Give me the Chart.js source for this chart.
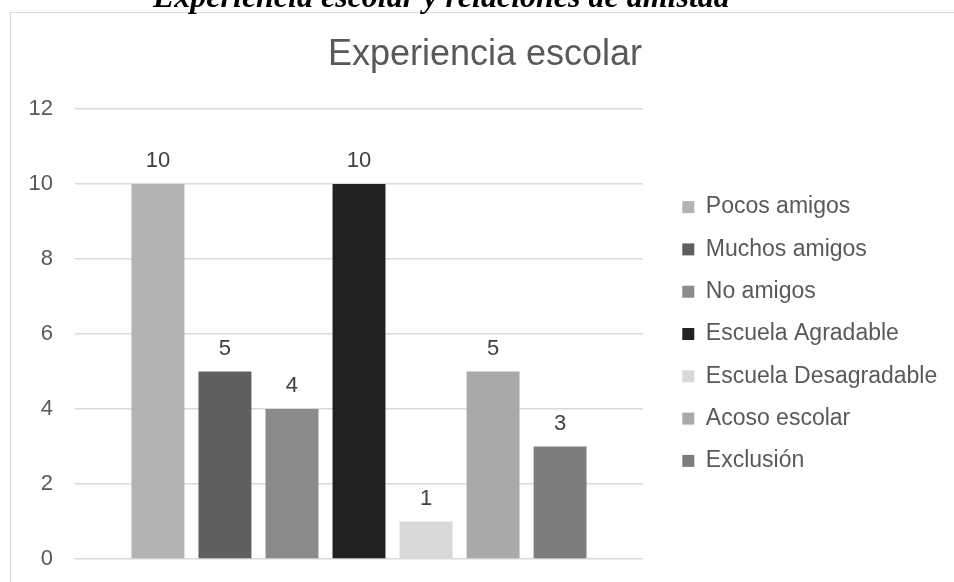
<!DOCTYPE html>
<html>
<head>
<meta charset="utf-8">
<script src="https://cdn.jsdelivr.net/npm/chart.js@4.4.1/dist/chart.umd.min.js"></script>
<style>
  html, body { margin: 0; padding: 0; background: #fff; width: 954px; height: 582px; overflow: hidden; }
  #frame { position: absolute; left: 10px; top: 12px; width: 1200px; height: 900px; border: 1px solid #d9d9d9; }
  #wrap { position: absolute; left: 0; top: 0; width: 954px; height: 582px; }
  #heading { position: absolute; left: 153px; top: -20px; font-family: "Liberation Serif", "Times New Roman", serif; font-weight: bold; font-style: italic; font-size: 32px; line-height: 1; color: #000; white-space: nowrap; }
</style>
</head>
<body>
<div id="frame"></div>
<div id="wrap"><canvas id="c" width="954" height="582"></canvas></div>
<div id="heading">Experiencia escolar y relaciones de amistad</div>
<script>
const chartTitle = "Experiencia escolar";
const seriesNames = ["Pocos amigos", "Muchos amigos", "No amigos", "Escuela Agradable", "Escuela Desagradable", "Acoso escolar", "Exclusión"];
const seriesValues = [10, 5, 4, 10, 1, 5, 3];
const seriesColors = ["#b3b3b3", "#5f5f5f", "#8b8b8b", "#222222", "#d9d9d9", "#a9a9a9", "#7d7d7d"];
const yTicks = [0, 2, 4, 6, 8, 10, 12];

const datasets = seriesNames.map((name, i) => ({
  label: name,
  data: [seriesValues[i]],
  backgroundColor: seriesColors[i],
  borderWidth: 0,
  categoryPercentage: 0.826,
  barPercentage: 0.79
}));

const valueLabels = {
  id: 'valueLabels',
  afterDatasetsDraw(chart) {
    const ctx = chart.ctx;
    ctx.save();
    ctx.font = '22px "Liberation Sans", Arial, sans-serif';
    ctx.fillStyle = '#404040';
    ctx.textAlign = 'center';
    ctx.textBaseline = 'alphabetic';
    chart.data.datasets.forEach((ds, i) => {
      const meta = chart.getDatasetMeta(i);
      meta.data.forEach((el, j) => {
        ctx.fillText(String(ds.data[j]), el.x, el.y - 17);
      });
    });
    ctx.restore();
  }
};

const LEGEND_W = 291;
const fixLegend = {
  id: 'fixLegend',
  beforeLayout(chart) {
    const lg = chart.legend;
    if (lg && !lg._fixed) {
      const orig = lg.fit.bind(lg);
      lg.fit = function () { orig(); this.width = LEGEND_W; };
      lg._fixed = true;
    }
  }
};

new Chart(document.getElementById('c'), {
  type: 'bar',
  data: { labels: [""], datasets },
  plugins: [valueLabels, fixLegend],
  options: {
    responsive: false,
    animation: false,
    layout: { padding: { left: 16, right: 0, top: 0, bottom: 23 } },
    plugins: {
      title: {
        display: true,
        text: chartTitle,
        color: '#595959',
        font: { family: '"Liberation Sans", Arial, sans-serif', size: 36, weight: 'normal' },
        padding: { top: 33, bottom: 32.8 }
      },
      legend: {
        position: 'right',
        fullSize: false,
        align: 'center',
        labels: {
          color: '#595959',
          font: { family: '"Liberation Sans", Arial, sans-serif', size: 23 },
          boxWidth: 12,
          boxHeight: 12,
          padding: 19.3
        }
      },
      tooltip: { enabled: false }
    },
    scales: {
      x: { display: false },
      y: {
        min: 0, max: 12,
        afterBuildTicks(scale) { scale.ticks = yTicks.map(v => ({ value: v })); },
        afterFit(scale) { scale.width = 59; scale.paddingTop = 0; scale.paddingBottom = 0; },
        ticks: {
          color: '#595959',
          font: { family: '"Liberation Sans", Arial, sans-serif', size: 22 },
          padding: 22
        },
        grid: { color: '#d9d9d9', lineWidth: 1.5, drawTicks: false },
        border: { display: false }
      },
      y2: {
        position: 'right',
        display: true,
        afterFit(scale) { scale.width = 20; },
        ticks: { display: false },
        grid: { display: false, drawTicks: false },
        border: { display: false }
      }
    }
  }
});
</script>
</body>
</html>
